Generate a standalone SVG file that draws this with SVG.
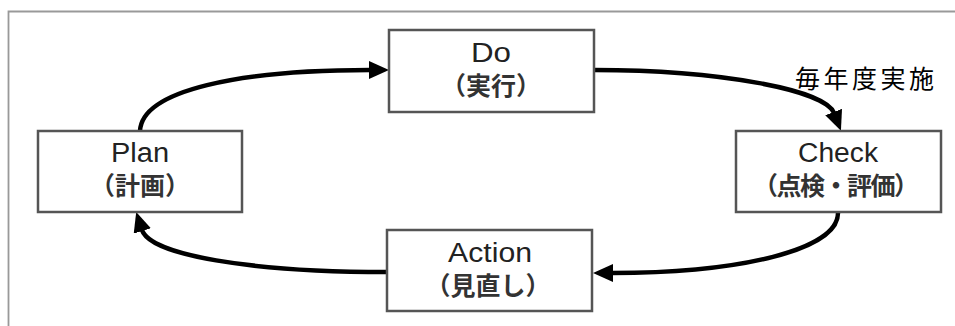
<svg xmlns="http://www.w3.org/2000/svg" width="955" height="326" viewBox="0 0 955 326">
<style>
.box{fill:#fff;stroke:#555;stroke-width:2.5}
.en{font-family:"Liberation Sans",Arial,sans-serif;font-size:27px;fill:#222;text-anchor:middle}
.jp{font-family:"Noto Sans CJK JP",sans-serif;font-size:25px;font-weight:bold;fill:#333;text-anchor:middle}
.conn{fill:none;stroke:#000;stroke-width:4.5}
</style>
<defs>
<marker id="ah" viewBox="0 0 20 18" refX="1" refY="9" markerWidth="20" markerHeight="18" markerUnits="userSpaceOnUse" orient="auto">
<path d="M0,0 L20,9 L0,18 z" fill="#000"/>
</marker>
</defs>
<rect width="955" height="326" fill="#fff"/>
<path d="M8.5,326 V11.5 H955" fill="none" stroke="#999" stroke-width="1.8"/>
<g id="connectors">
<path class="conn" d="M140,131 C142,90 240,70 370,70" marker-end="url(#ah)"/>
<path class="conn" d="M594,70 C720,70 825,90 834,113" marker-end="url(#ah)"/>
<path class="conn" d="M838,213 C838,250 740,273 612,273" marker-end="url(#ah)"/>
<path class="conn" d="M387,272 C250,272 150,255 142,230" marker-end="url(#ah)"/>
</g>
<g id="plan">
<rect class="box" x="38" y="131" width="204" height="81"/>
<text class="en" x="140" y="162" textLength="58" lengthAdjust="spacingAndGlyphs">Plan</text>
<text class="jp" x="140" y="195">（計画）</text>
</g>
<g id="do">
<rect class="box" x="389" y="30" width="205" height="82"/>
<text class="en" x="491" y="62" textLength="40" lengthAdjust="spacingAndGlyphs">Do</text>
<text class="jp" x="491" y="95">（実行）</text>
</g>
<g id="check">
<rect class="box" x="736" y="131" width="205" height="81"/>
<text class="en" x="838" y="162" textLength="80" lengthAdjust="spacingAndGlyphs">Check</text>
<text class="jp" x="836" y="195" textLength="166">（点検・評価）</text>
</g>
<g id="action">
<rect class="box" x="387" y="230" width="205" height="81"/>
<text class="en" x="490" y="262" textLength="84" lengthAdjust="spacingAndGlyphs">Action</text>
<text class="jp" x="488" y="295">（見直し）</text>
</g>
<g id="label">
<text x="795" y="88" font-family="'Noto Sans CJK JP',sans-serif" font-size="25" fill="#000" textLength="139">毎年度実施</text>
</g>
</svg>
